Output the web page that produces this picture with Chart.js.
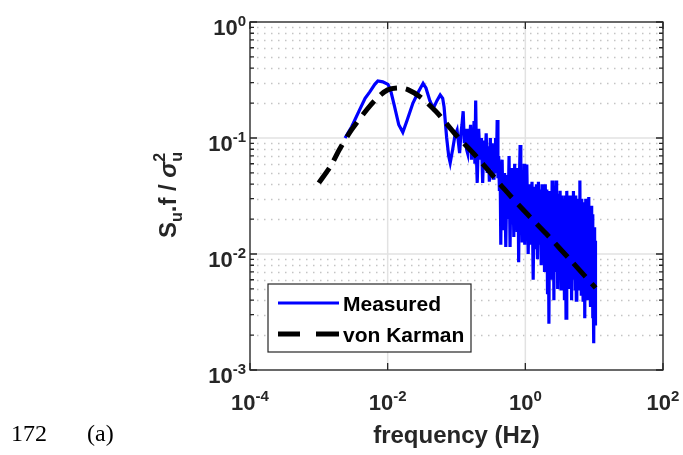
<!DOCTYPE html>
<html>
<head>
<meta charset="utf-8">
<script src="https://cdn.jsdelivr.net/npm/chart.js@4.4.1/dist/chart.umd.min.js"></script>
<style>
  html, body { margin: 0; padding: 0; background: #fff; }
  #wrap { width: 683px; height: 455px; position: relative; }
</style>
</head>
<body>
<div id="wrap"><canvas id="spec" width="683" height="455"></canvas></div>
<script>
// von Karman model spectrum, f (Hz) vs normalised S.f/var
const vkFreq = [0.001, 0.0015, 0.002, 0.003, 0.005, 0.007, 0.01, 0.015, 0.02, 0.03, 0.05, 0.07, 0.1, 0.2, 0.5, 1, 2, 5, 10.5];
const vkLevel = [0.041, 0.058, 0.08, 0.118, 0.176, 0.22, 0.26, 0.27, 0.26, 0.225, 0.17, 0.135, 0.105, 0.068, 0.036, 0.023, 0.015, 0.0083, 0.0051];

// measured spectrum, low-frequency part
const measFreqLow = [0.0024, 0.003, 0.004, 0.0047, 0.0055, 0.0065, 0.0072, 0.0085, 0.0101, 0.011, 0.0125, 0.0145, 0.0166, 0.019, 0.0233, 0.028, 0.0327, 0.036, 0.041, 0.046, 0.052, 0.058, 0.063, 0.066, 0.072, 0.077, 0.081, 0.088, 0.095, 0.102, 0.107, 0.111, 0.116, 0.12, 0.125, 0.13, 0.135, 0.14, 0.145, 0.15, 0.155, 0.16, 0.165, 0.17, 0.175, 0.18, 0.185, 0.19, 0.195, 0.2, 0.21, 0.22, 0.23, 0.24, 0.25, 0.26, 0.27, 0.28, 0.29, 0.3, 0.31, 0.32, 0.33, 0.34, 0.35, 0.36, 0.37, 0.38, 0.39, 0.4, 0.41, 0.42, 0.43, 0.44, 0.45];
const measLevelLow = [0.10, 0.125, 0.18, 0.22, 0.25, 0.29, 0.31, 0.305, 0.29, 0.26, 0.19, 0.13, 0.112, 0.14, 0.20, 0.25, 0.296, 0.27, 0.21, 0.18, 0.21, 0.235, 0.22, 0.185, 0.10, 0.07, 0.061, 0.08, 0.105, 0.117, 0.09, 0.074, 0.11, 0.13, 0.17, 0.09, 0.12, 0.08, 0.074, 0.12, 0.09, 0.13, 0.065, 0.11, 0.085, 0.14, 0.06, 0.21, 0.07, 0.041, 0.12, 0.065, 0.10, 0.041, 0.095, 0.06, 0.11, 0.05, 0.085, 0.042, 0.10, 0.055, 0.09, 0.045, 0.08, 0.05, 0.10, 0.055, 0.143, 0.045, 0.07, 0.035, 0.06, 0.012, 0.05];

// measured spectrum, noisy high-frequency part
const measFreqHigh = [0.46, 0.48, 0.5, 0.52, 0.54, 0.56, 0.58, 0.6, 0.62, 0.64, 0.66, 0.68, 0.7, 0.72, 0.74, 0.76, 0.78, 0.8, 0.82, 0.84, 0.86, 0.88, 0.9, 0.92, 0.94, 0.96, 0.98, 1.0,
  1.05, 1.1, 1.15, 1.2, 1.25, 1.3, 1.35, 1.4, 1.45, 1.5, 1.55, 1.6, 1.65, 1.7, 1.75, 1.8, 1.85, 1.9, 1.95, 2.0, 2.05, 2.1, 2.15, 2.2, 2.25, 2.3, 2.35, 2.4, 2.45, 2.5, 2.55, 2.6, 2.65, 2.7, 2.75, 2.8, 2.85, 2.9, 2.95, 3.0,
  3.1, 3.2, 3.3, 3.4, 3.5, 3.6, 3.7, 3.8, 3.9, 4.0, 4.1, 4.2, 4.3, 4.4, 4.5, 4.6, 4.7, 4.8, 4.9, 5.0, 5.1, 5.2, 5.3, 5.4, 5.5, 5.6, 5.7, 5.8, 5.9, 6.0, 6.1, 6.2, 6.3, 6.4, 6.5, 6.6, 6.7, 6.8, 6.9, 7.0, 7.1, 7.2, 7.3, 7.4, 7.5, 7.6, 7.7, 7.8, 7.9, 8.0, 8.1, 8.2, 8.3, 8.4, 8.5, 8.6, 8.7, 8.8, 8.9, 9.0, 9.1, 9.2, 9.3, 9.4, 9.5, 9.6, 9.7, 9.8, 9.9, 10.0, 10.1, 10.2, 10.3, 10.4, 10.5];
const measLevelHigh = [0.065, 0.016, 0.05, 0.0115, 0.048, 0.02, 0.07, 0.0115, 0.055, 0.018, 0.045, 0.014, 0.06, 0.02, 0.05, 0.016, 0.055, 0.0085, 0.045, 0.087, 0.016, 0.05, 0.013, 0.048, 0.018, 0.06, 0.012, 0.045,
  0.059, 0.01, 0.04, 0.012, 0.042, 0.006, 0.038, 0.011, 0.04, 0.009, 0.042, 0.012, 0.036, 0.008, 0.04, 0.01, 0.035, 0.007, 0.04, 0.009, 0.036, 0.0045, 0.032, 0.0025, 0.035, 0.008, 0.034, 0.006, 0.043, 0.009, 0.033, 0.004, 0.035, 0.008, 0.03, 0.043, 0.007, 0.033, 0.005, 0.032,
  0.007, 0.035, 0.005, 0.032, 0.008, 0.03, 0.004, 0.032, 0.0028, 0.035, 0.007, 0.03, 0.005, 0.032, 0.007, 0.028, 0.004, 0.032, 0.006, 0.035, 0.007, 0.03, 0.005, 0.032, 0.004, 0.028, 0.0065, 0.03, 0.005, 0.028, 0.006, 0.043, 0.006, 0.026, 0.0045, 0.03, 0.006, 0.026, 0.004, 0.028, 0.006, 0.024, 0.0028, 0.026, 0.005, 0.03, 0.0045, 0.025, 0.006, 0.028, 0.004, 0.024, 0.005, 0.031, 0.0045, 0.022, 0.005, 0.024, 0.0035, 0.026, 0.005, 0.02, 0.004, 0.022, 0.0028, 0.018, 0.0045, 0.016, 0.0017, 0.017, 0.0035, 0.015, 0.0025, 0.013, 0.005];

const xTickExp = [-4, -2, 0, 2];
const yTickExp = [-3, -2, -1, 0];
const seriesNames = ['Measured', 'von Karman'];

const measFreq = measFreqLow.concat(measFreqHigh);
const measLevel = measLevelLow.concat(measLevelHigh);
const toPoints = (xs, ys) => xs.map((x, i) => ({ x: x, y: ys[i] }));

const FONT = '"Liberation Sans", Arial, Helvetica, sans-serif';

// draw "10" with a raised exponent
function drawPow(ctx, exp, x, y, align) {
  const base = '10', sup = String(exp);
  ctx.font = 'bold 22px ' + FONT;
  const wb = ctx.measureText(base).width;
  ctx.font = 'bold 15px ' + FONT;
  const we = ctx.measureText(sup).width;
  let x0 = x;
  if (align === 'center') x0 = x - (wb + we) / 2;
  else if (align === 'right') x0 = x - (wb + we);
  ctx.textAlign = 'left';
  ctx.textBaseline = 'alphabetic';
  ctx.font = 'bold 22px ' + FONT;
  ctx.fillText(base, x0, y);
  ctx.font = 'bold 15px ' + FONT;
  ctx.fillText(sup, x0 + wb, y - 9);
}

const axesPlugin = {
  id: 'matlabAxes',
  beforeDatasetsDraw(chart) {
    const { ctx, chartArea: a, scales: { x, y } } = chart;
    ctx.save();
    // minor horizontal grid (dotted)
    ctx.strokeStyle = '#c4c4c4';
    ctx.lineWidth = 1.5;
    ctx.setLineDash([1.5, 5.5]);
    for (let e = -3; e < 0; e++) {
      for (let k = 2; k <= 9; k++) {
        const py = Math.round(y.getPixelForValue(k * Math.pow(10, e))) + 0.5;
        ctx.beginPath(); ctx.moveTo(a.left, py); ctx.lineTo(a.right, py); ctx.stroke();
      }
    }
    // major grid
    ctx.setLineDash([]);
    ctx.strokeStyle = '#e2e2e2';
    ctx.lineWidth = 1.5;
    xTickExp.forEach(e => {
      const px = x.getPixelForValue(Math.pow(10, e));
      ctx.beginPath(); ctx.moveTo(px, a.top); ctx.lineTo(px, a.bottom); ctx.stroke();
    });
    yTickExp.forEach(e => {
      const py = y.getPixelForValue(Math.pow(10, e));
      ctx.beginPath(); ctx.moveTo(a.left, py); ctx.lineTo(a.right, py); ctx.stroke();
    });
    ctx.restore();
  },
  afterDatasetsDraw(chart) {
    const { ctx, chartArea: a, scales: { x, y } } = chart;
    ctx.save();
    // axes box
    ctx.strokeStyle = '#262626';
    ctx.lineWidth = 1.3;
    ctx.strokeRect(a.left, a.top, a.right - a.left, a.bottom - a.top);
    // tick marks, drawn inside the box
    ctx.beginPath();
    xTickExp.forEach(e => {
      const px = x.getPixelForValue(Math.pow(10, e));
      ctx.moveTo(px, a.bottom); ctx.lineTo(px, a.bottom - 7);
      ctx.moveTo(px, a.top); ctx.lineTo(px, a.top + 7);
    });
    for (let e = -3; e <= 0; e++) {
      const py = y.getPixelForValue(Math.pow(10, e));
      ctx.moveTo(a.left, py); ctx.lineTo(a.left + 7, py);
      ctx.moveTo(a.right, py); ctx.lineTo(a.right - 7, py);
      if (e === 0) break;
      for (let k = 2; k <= 9; k++) {
        const pm = y.getPixelForValue(k * Math.pow(10, e));
        ctx.moveTo(a.left, pm); ctx.lineTo(a.left + 4, pm);
        ctx.moveTo(a.right, pm); ctx.lineTo(a.right - 4, pm);
      }
    }
    ctx.stroke();

    // tick labels
    ctx.fillStyle = '#262626';
    xTickExp.forEach(e => drawPow(ctx, e, x.getPixelForValue(Math.pow(10, e)), a.bottom + 40, 'center'));
    yTickExp.forEach(e => drawPow(ctx, e, a.left - 4, y.getPixelForValue(Math.pow(10, e)) + 13, 'right'));

    // x title
    ctx.font = 'bold 24px ' + FONT;
    ctx.textAlign = 'center';
    ctx.textBaseline = 'alphabetic';
    ctx.fillText('frequency (Hz)', (a.left + a.right) / 2, 443);

    // y title: S_u.f / sigma_u^2, rotated
    ctx.save();
    ctx.translate(176, (a.top + a.bottom) / 2 - 1);
    ctx.rotate(-Math.PI / 2);
    const big = 'bold 24px ' + FONT, small = 'bold 16px ' + FONT, sig = 'italic bold 24px ' + FONT;
    const parts = [
      { t: 'S', f: big, dy: 0 },
      { t: 'u', f: small, dy: 6 },
      { t: '.f / ', f: big, dy: 0 },
      { t: '\u03c3', f: sig, dy: 0 },
      { t: '2', f: small, dy: -11, stack: true },
      { t: 'u', f: small, dy: 6 }
    ];
    let total = 0;
    parts.forEach(p => { ctx.font = p.f; p.w = ctx.measureText(p.t).width; if (!p.stack) total += p.w; });
    let cx = -total / 2;
    ctx.textAlign = 'left';
    parts.forEach(p => {
      ctx.font = p.f;
      ctx.fillText(p.t, cx, p.dy);
      if (!p.stack) cx += p.w;
    });
    ctx.restore();

    // legend
    const lx = 268, ly = 284, lw = 203, lh = 68;
    ctx.fillStyle = '#fff';
    ctx.fillRect(lx, ly, lw, lh);
    ctx.strokeStyle = '#262626';
    ctx.lineWidth = 1.2;
    ctx.strokeRect(lx, ly, lw, lh);
    ctx.lineCap = 'butt';
    ctx.strokeStyle = '#0000ff';
    ctx.lineWidth = 3;
    ctx.beginPath(); ctx.moveTo(278, 303); ctx.lineTo(339, 303); ctx.stroke();
    ctx.strokeStyle = '#000';
    ctx.lineWidth = 5;
    ctx.beginPath(); ctx.moveTo(278, 334); ctx.lineTo(300, 334); ctx.moveTo(316, 334); ctx.lineTo(339, 334); ctx.stroke();
    ctx.fillStyle = '#000';
    ctx.font = 'bold 21px ' + FONT;
    ctx.textAlign = 'left';
    ctx.fillText(seriesNames[0], 343, 311);
    ctx.fillText(seriesNames[1], 343, 342);

    // figure number and panel tag
    ctx.font = '24px "Liberation Serif", "Times New Roman", serif';
    ctx.fillText('172', 11, 441);
    ctx.fillText('(a)', 87, 441);
    ctx.restore();
  }
};

new Chart(document.getElementById('spec'), {
  type: 'line',
  data: {
    datasets: [
      {
        label: seriesNames[1],
        data: toPoints(vkFreq, vkLevel),
        borderColor: '#000',
        borderWidth: 5,
        borderDash: [18, 9],
        borderCapStyle: 'butt',
        pointRadius: 0,
        tension: 0.3
      },
      {
        label: seriesNames[0],
        data: toPoints(measFreq, measLevel),
        borderColor: '#0000ff',
        borderWidth: 3.2,
        borderJoinStyle: 'miter',
        pointRadius: 0,
        tension: 0
      }
    ]
  },
  options: {
    responsive: false,
    devicePixelRatio: 1,
    animation: false,
    events: [],
    layout: { padding: { left: 250, right: 20, top: 22, bottom: 85 } },
    plugins: { legend: { display: false }, tooltip: { enabled: false } },
    scales: {
      x: { type: 'logarithmic', min: 1e-4, max: 1e2, display: false },
      y: { type: 'logarithmic', min: 1e-3, max: 1, display: false }
    }
  },
  plugins: [axesPlugin]
});
</script>
</body>
</html>
